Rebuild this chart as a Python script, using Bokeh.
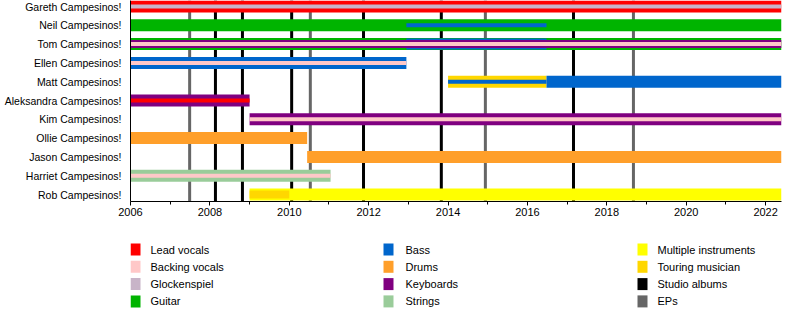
from bokeh.plotting import figure
from bokeh.models import Range1d, FixedTicker, ColumnDataSource, LinearAxis
from bokeh.layouts import column
from bokeh.embed import file_html
from bokeh.resources import INLINE
from bokeh.core.properties import value

# ---------------- data ----------------
members = ["Gareth Campesinos!", "Neil Campesinos!", "Tom Campesinos!", "Ellen Campesinos!",
           "Matt Campesinos!", "Aleksandra Campesinos!", "Kim Campesinos!", "Ollie Campesinos!",
           "Jason Campesinos!", "Harriet Campesinos!", "Rob Campesinos!"]

roles = ["Lead vocals", "Backing vocals", "Glockenspiel", "Guitar",
         "Bass", "Drums", "Keyboards", "Strings",
         "Multiple instruments", "Touring musician", "Studio albums", "EPs"]
role_colors = ["#FF0000", "#FFC8C8", "#C8B4C8", "#00B400",
               "#0066CC", "#FF9F2A", "#800080", "#9ACC9A",
               "#FFFF00", "#FFD700", "#000000", "#666666"]

END = 2022.4
bar_member = ["Gareth Campesinos!", "Gareth Campesinos!",
              "Neil Campesinos!", "Neil Campesinos!",
              "Tom Campesinos!", "Tom Campesinos!", "Tom Campesinos!", "Tom Campesinos!",
              "Ellen Campesinos!", "Ellen Campesinos!",
              "Matt Campesinos!", "Matt Campesinos!", "Matt Campesinos!",
              "Aleksandra Campesinos!", "Aleksandra Campesinos!",
              "Kim Campesinos!", "Kim Campesinos!",
              "Ollie Campesinos!",
              "Jason Campesinos!",
              "Harriet Campesinos!", "Harriet Campesinos!",
              "Rob Campesinos!", "Rob Campesinos!"]
bar_role = ["Lead vocals", "Glockenspiel",
            "Guitar", "Bass",
            "Guitar", "Bass", "Keyboards", "Backing vocals",
            "Bass", "Backing vocals",
            "Touring musician", "Bass", "Bass",
            "Keyboards", "Lead vocals",
            "Keyboards", "Backing vocals",
            "Drums",
            "Drums",
            "Strings", "Backing vocals",
            "Multiple instruments", "Touring musician"]
bar_start = [2006, 2006,
             2006, 2012.95,
             2006, 2012.95, 2006, 2006,
             2006, 2006,
             2014.0, 2014.0, 2016.48,
             2006, 2006,
             2009.0, 2009.0,
             2006,
             2010.45,
             2006, 2006,
             2009.0, 2009.0]
bar_end = [END, END,
           END, 2016.48,
           END, 2016.48, END, END,
           2012.95, 2012.95,
           2016.48, 2016.48, END,
           2009.0, 2009.0,
           END, END,
           2010.45,
           END,
           2011.04, 2011.04,
           END, 2010.0]
# 1 = main role, higher = secondary role drawn on top
bar_rank = [1, 4,
            1, 4,
            1, 2, 3, 4,
            1, 4,
            1, 4, 1,
            1, 4,
            1, 4,
            1,
            1,
            1, 4,
            1, 3]

album_years = [2008.14, 2008.82, 2010.06, 2011.87, 2013.83, 2017.16]
ep_years = [2007.49, 2010.53, 2014.94, 2018.67]

tick_years = list(range(2006, 2023, 2))
minor_years = list(range(2007, 2022, 2))

# ---------------- layout constants ----------------
FONT = "Liberation Sans"
ROW_PX = 18.8
FRAME_H = 201
TOP_PX = 6
LEFT, RIGHT = 130, 19
rank_px = {1: 12, 2: 11, 3: 8, 4: 4}
color_of = dict(zip(roles, role_colors))

y_top = -TOP_PX / ROW_PX
y_bottom = (FRAME_H - TOP_PX) / ROW_PX

MAIN_H = 223
p = figure(width=800, height=MAIN_H, output_backend="svg", toolbar_location=None,
           x_range=Range1d(2006, END), y_range=Range1d(y_bottom, y_top),
           min_border_left=LEFT, min_border_right=RIGHT, min_border_top=0,
           min_border_bottom=MAIN_H - FRAME_H,
           x_axis_type=None, y_axis_type=None)
p.outline_line_color = None
p.background_fill_color = "white"
p.border_fill_color = "white"
p.xgrid.visible = False
p.ygrid.visible = False

xa = LinearAxis(ticker=FixedTicker(ticks=tick_years, minor_ticks=minor_years))
xa.axis_line_color = "black"
xa.major_tick_line_color = "black"
xa.minor_tick_line_color = "black"
xa.major_tick_in = 0
xa.major_tick_out = 4
xa.minor_tick_in = 0
xa.minor_tick_out = 3
xa.major_label_standoff = 2
xa.major_label_text_font = FONT
xa.major_label_text_font_size = "11px"
xa.major_label_text_color = "black"
p.add_layout(xa, "below")

ya = LinearAxis(ticker=FixedTicker(ticks=list(range(len(members)))))
ya.major_label_overrides = {i: m for i, m in enumerate(members)}
ya.axis_line_color = "black"
ya.major_tick_line_color = None
ya.minor_tick_line_color = None
ya.major_tick_in = 0
ya.major_tick_out = 0
ya.major_label_standoff = 9
ya.major_label_text_font = FONT
ya.major_label_text_font_size = "10.5px"
ya.major_label_text_color = "black"
p.add_layout(ya, "left")

# release lines (behind the bars)
p.segment(x0=ep_years, x1=ep_years, y0=[y_top] * len(ep_years), y1=[y_bottom] * len(ep_years),
          line_color=color_of["EPs"], line_width=3)
p.segment(x0=album_years, x1=album_years, y0=[y_top] * len(album_years), y1=[y_bottom] * len(album_years),
          line_color=color_of["Studio albums"], line_width=3)

# bars, main roles first
order = sorted(range(len(bar_member)), key=lambda k: bar_rank[k])
src = ColumnDataSource(dict(
    y=[members.index(bar_member[k]) for k in order],
    left=[bar_start[k] for k in order],
    right=[bar_end[k] for k in order],
    h=[rank_px[bar_rank[k]] / ROW_PX for k in order],
    c=[color_of[bar_role[k]] for k in order],
))
p.hbar(y="y", left="left", right="right", height="h", fill_color="c", line_color=None, source=src)

# ---------------- legend (screen-pixel coordinates) ----------------
LEG_H = 320 - MAIN_H
leg = figure(width=800, height=LEG_H, output_backend="svg", toolbar_location=None,
             x_range=Range1d(LEFT, 800 - RIGHT), y_range=Range1d(LEG_H, 0),
             min_border_left=LEFT, min_border_right=RIGHT, min_border_top=0, min_border_bottom=0,
             x_axis_type=None, y_axis_type=None)
leg.outline_line_color = None
leg.xgrid.visible = False
leg.ygrid.visible = False
leg.background_fill_color = "white"
leg.border_fill_color = "white"

col_x = [130, 383, 637]
text_x = [150, 405, 657]
row_y0 = 249 - MAIN_H
row_dy = 17.3
sx, sy, tx = [], [], []
for i, r in enumerate(roles):
    c, rr = divmod(i, 4)
    sx.append(col_x[c] + 5)
    sy.append(row_y0 + rr * row_dy)
    tx.append(text_x[c])
leg.rect(x=sx, y=sy, width=10, height=12, fill_color=role_colors, line_color=None)
leg.text(x=tx, y=sy, text=roles, text_font=value(FONT), text_font_size=value("11px"),
         text_baseline="middle", text_align="left", text_color="black")

layout = column(p, leg, spacing=0)
open("out.html", "w").write(file_html(layout, INLINE))
